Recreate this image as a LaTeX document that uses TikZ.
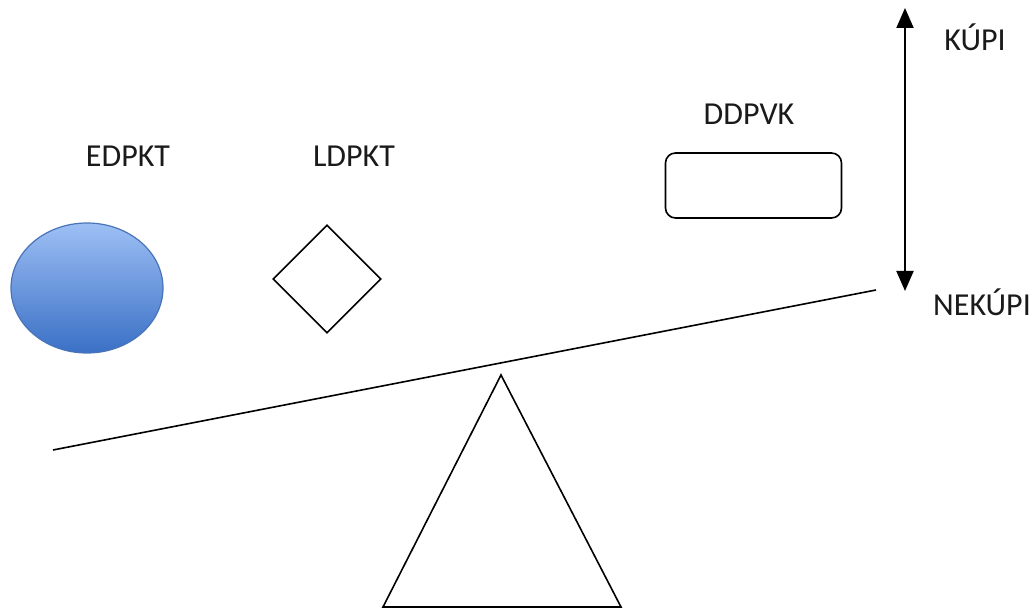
\documentclass[tikz,border=0pt]{standalone}
\usepackage{fontspec}
\setmainfont{Carlito}
\usetikzlibrary{shapes.geometric,arrows.meta}
\definecolor{ballTop}{HTML}{9DBFF4}
\definecolor{ballBottom}{HTML}{3A70C6}
\definecolor{ballEdge}{HTML}{4A74B8}
\definecolor{inkgray}{HTML}{1A1A1A}
\tikzset{
  label text/.style={font=\fontsize{32}{36}\selectfont, text=inkgray, inner sep=0pt, anchor=base},
  outline/.style={draw=black, line width=1.6pt},
}
\begin{document}
\begin{tikzpicture}[x=1pt,y=-1pt]
\useasboundingbox (0,0) rectangle (1034,609);

% objects on the scale
\node[ellipse, draw=ballEdge, line width=1.2pt, top color=ballTop, bottom color=ballBottom,
      minimum width=152pt, minimum height=130pt, inner sep=0pt] (ball) at (87,288) {};
\node[diamond, outline, minimum width=108pt, minimum height=108pt, inner sep=0pt] (rhomb) at (327,279) {};
\node[rectangle, rounded corners=10pt, outline, minimum width=176pt, minimum height=65pt, inner sep=0pt] (box) at (753.5,185.5) {};

% labels (placed on their baselines)
\node[label text] (edpkt) at (128,167) {EDPKT};
\node[label text] (ldpkt) at (354,167) {LDPKT};
\node[label text] (ddpvk) at (749,125) {DDPVK};
\node[label text] (kupi) at (975,51) {KÚPI};
\node[label text] (nekupi) at (982,316) {NEKÚPI};

% beam and pivot
\coordinate (beamL) at (53,450);
\coordinate (beamR) at (876,290);
\draw[outline] (beamL) -- (beamR);
\coordinate (apex) at (501,375);
\coordinate (baseL) at (383,607);
\coordinate (baseR) at (621,607);
\draw[outline, line join=miter] (apex) -- (baseL) -- (baseR) -- cycle;

% vertical double arrow
\coordinate (arrTop) at (905,8);
\coordinate (arrBot) at (905,291);
\draw[line width=2pt, {Triangle[length=20pt,width=17pt]}-{Triangle[length=20pt,width=17pt]}] (arrTop) -- (arrBot);
\end{tikzpicture}
\end{document}
